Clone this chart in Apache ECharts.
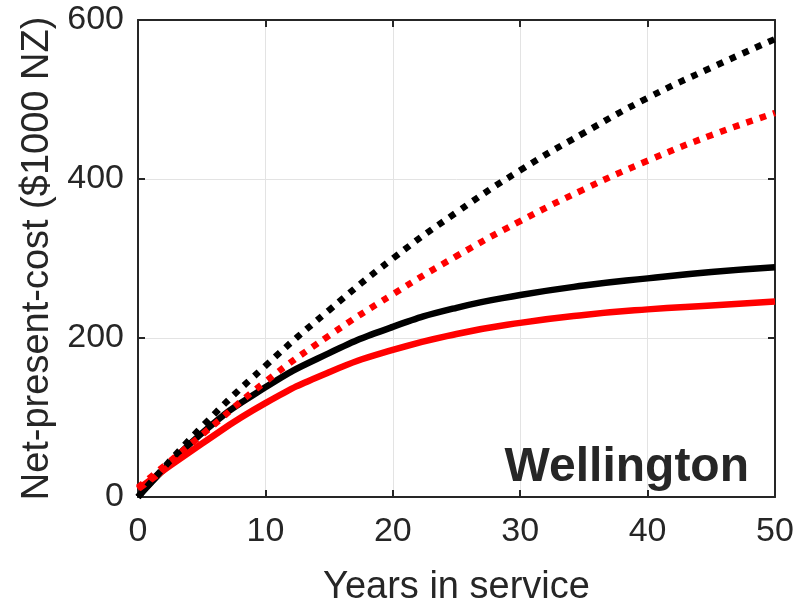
<!DOCTYPE html>
<html>
<head>
<meta charset="utf-8">
<script src="https://cdn.jsdelivr.net/npm/echarts@6/dist/echarts.min.js"></script>
<style>
  html, body { margin: 0; padding: 0; background: #fff; }
  #chart { width: 807px; height: 600px; }
</style>
</head>
<body>
<div id="chart"></div>
<script>
// Years in service (x) and net-present-cost in $1000 NZ (y)
const years = [0, 5, 10, 15, 20, 25, 30, 35, 40, 45, 50];
const blackSolid  = [0, 80, 138, 181, 214, 238, 254, 266, 275, 283, 289];
const redSolid    = [10, 67, 118, 157, 185, 205, 219, 229, 236, 241, 246];
const blackDotted = [0, 88, 165, 235, 300, 358, 411, 458, 502, 540, 576];
const redDotted   = [12, 78, 145, 203, 255, 303, 347, 387, 423, 455, 483];
const xTicks = [0, 10, 20, 30, 40, 50];
const yTicks = [0, 200, 400, 600];
const cityLabel = 'Wellington';

const pairs = (ys) => years.map((x, i) => [x, ys[i]]);
const ink = '#262626';
const font = 'Liberation Sans, Arial, Helvetica, sans-serif';

const axisCommon = {
  type: 'value',
  axisLine: { show: true, onZero: false, lineStyle: { color: ink, width: 2 } },
  axisTick: { show: true, inside: true, length: 7, lineStyle: { color: ink, width: 2 } },
  splitLine: { show: false },
};

function lineSeries(name, ys, color, dotted) {
  return {
    name: name,
    type: 'line',
    data: pairs(ys),
    smooth: 0.5,
    symbol: 'none',
    xAxisIndex: 0,
    yAxisIndex: 0,
    lineStyle: {
      color: color,
      width: 6.5,
      type: dotted ? [6.5, 7.5] : 'solid',
      cap: 'butt',
    },
    z: dotted ? 4 : 3,
  };
}

const chart = echarts.init(document.getElementById('chart'), null, { renderer: 'canvas' });
chart.setOption({
  animation: false,
  backgroundColor: '#ffffff',
  grid: { left: 138, right: 32, top: 20, bottom: 103, containLabel: false, outerBoundsMode: 'none' },
  xAxis: [
    Object.assign({}, axisCommon, {
      position: 'bottom',
      min: xTicks[0], max: xTicks[xTicks.length - 1], interval: 10,
      name: 'Years in service',
      nameLocation: 'middle',
      nameGap: 72,
      nameTextStyle: { color: ink, fontSize: 38, fontFamily: font },
      axisLabel: { color: ink, fontSize: 34, fontFamily: font, margin: 18 },
      splitLine: { show: true, lineStyle: { color: '#e3e3e3', width: 1 } },
    }),
    Object.assign({}, axisCommon, {
      position: 'top',
      min: xTicks[0], max: xTicks[xTicks.length - 1], interval: 10,
      axisLabel: { show: false },
    }),
  ],
  yAxis: [
    Object.assign({}, axisCommon, {
      position: 'left',
      min: yTicks[0], max: yTicks[yTicks.length - 1], interval: 200,
      name: 'Net-present-cost ($1000 NZ)',
      nameLocation: 'middle',
      nameGap: 80,
      nameTextStyle: { color: ink, fontSize: 38, fontFamily: font },
      axisLabel: { color: ink, fontSize: 34, fontFamily: font, margin: 14 },
      splitLine: { show: true, lineStyle: { color: '#e3e3e3', width: 1 } },
    }),
    Object.assign({}, axisCommon, {
      position: 'right',
      min: yTicks[0], max: yTicks[yTicks.length - 1], interval: 200,
      axisLabel: { show: false },
    }),
  ],
  series: [
    lineSeries('Black solid', blackSolid, '#000000', false),
    lineSeries('Red solid', redSolid, '#ff0000', false),
    lineSeries('Black dotted', blackDotted, '#000000', true),
    lineSeries('Red dotted', redDotted, '#ff0000', true),
  ],
  graphic: [{
    type: 'text',
    right: 58,
    top: 444,
    z: 10,
    style: {
      text: cityLabel,
      fill: ink,
      font: 'bold 48px ' + font,
    },
  }],
});
</script>
</body>
</html>
